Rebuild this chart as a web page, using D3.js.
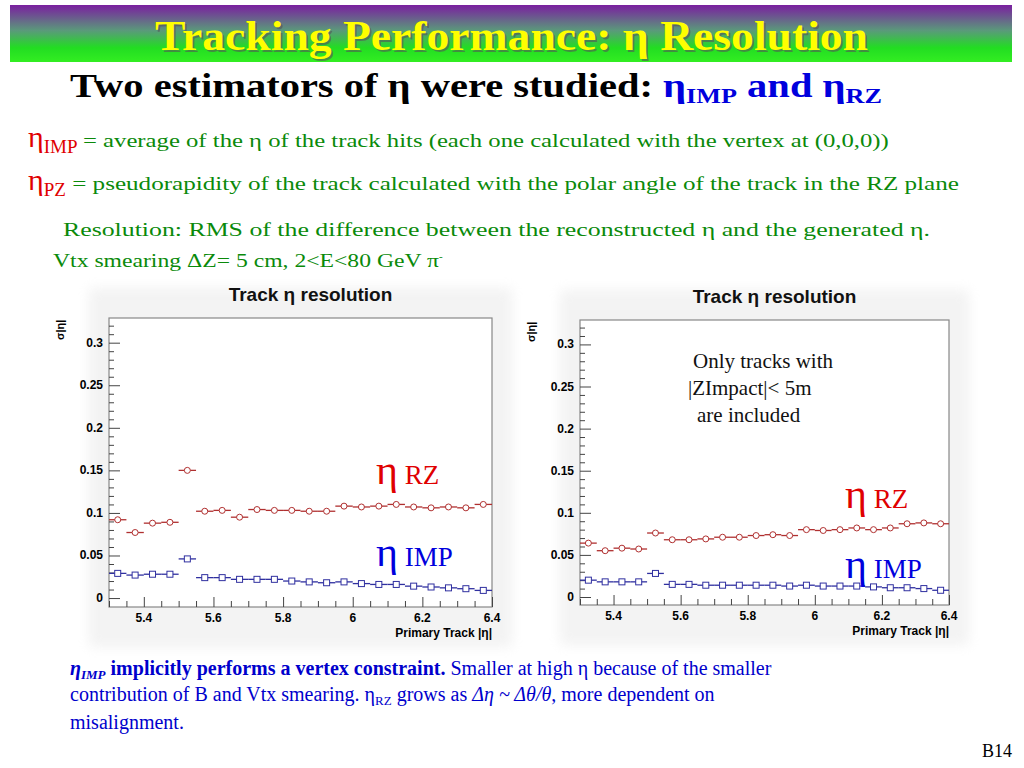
<!DOCTYPE html>
<meta charset="utf-8">
<style>
body { margin: 0; background: #fff; }
svg text { font-family: "Liberation Serif", "DejaVu Serif", serif; }
.roo text { font-family: "Liberation Sans", Arial, sans-serif; font-weight: bold; }
</style>
<svg width="1024" height="768"></svg>
<script src="https://d3js.org/d3.v7.min.js"></script>
<script>

// bin centres, width 0.05 from 5.3 to 6.4
var etaBins = d3.range(22).map(function(i) { return +(5.325 + i * 0.05).toFixed(3); });

var leftRZ  = [0.092,0.077,0.088,0.089,0.150,0.102,0.103,0.095,0.104,0.103,0.103,0.102,0.102,0.108,0.107,0.108,0.110,0.107,0.106,0.107,0.106,0.110];
var leftIMP = [0.029,0.027,0.028,0.028,0.046,0.024,0.024,0.022,0.022,0.022,0.020,0.019,0.018,0.019,0.017,0.016,0.016,0.014,0.013,0.012,0.011,0.009];
var rightRZ  = [0.064,0.055,0.058,0.057,0.076,0.068,0.068,0.069,0.071,0.071,0.073,0.074,0.073,0.080,0.079,0.080,0.082,0.080,0.082,0.087,0.088,0.087];
var rightIMP = [0.020,0.018,0.018,0.018,0.028,0.015,0.015,0.014,0.014,0.014,0.014,0.014,0.013,0.014,0.013,0.013,0.013,0.012,0.011,0.011,0.010,0.008];

var xTicks = [5.4, 5.6, 5.8, 6, 6.2, 6.4];
var yTicks = [0, 0.05, 0.1, 0.15, 0.2, 0.25, 0.3];

var svg = d3.select("svg");

// banner
var defs = svg.append("defs");
var grad = defs.append("linearGradient").attr("id", "ban").attr("x1", 0).attr("y1", 0).attr("x2", 0).attr("y2", 1);
grad.append("stop").attr("offset", "0%").attr("stop-color", "#7a1fa0");
grad.append("stop").attr("offset", "45%").attr("stop-color", "#5a9a7a");
grad.append("stop").attr("offset", "75%").attr("stop-color", "#22dd22");
grad.append("stop").attr("offset", "100%").attr("stop-color", "#33ee22");
var shadow = defs.append("filter").attr("id", "blur").attr("x", "-20%").attr("y", "-20%").attr("width", "140%").attr("height", "140%");
shadow.append("feGaussianBlur").attr("stdDeviation", 6);

svg.append("rect").attr("x", 10).attr("y", 5).attr("width", 1002).attr("height", 57).attr("fill", "url(#ban)");
svg.append("text").attr("x", 157).attr("y", 52).attr("textLength", 713).attr("lengthAdjust", "spacingAndGlyphs")
  .attr("font-size", 42).attr("font-weight", "bold").attr("fill", "#555").attr("opacity", 0.6)
  .text("Tracking Performance: η Resolution");
svg.append("text").attr("x", 155).attr("y", 50).attr("textLength", 713).attr("lengthAdjust", "spacingAndGlyphs")
  .attr("font-size", 42).attr("font-weight", "bold").attr("fill", "#ffff00")
  .text("Tracking Performance: η Resolution");

var sub = svg.append("text").attr("x", 70).attr("y", 97).attr("font-size", 34).attr("font-weight", "bold")
  .attr("textLength", 812).attr("lengthAdjust", "spacingAndGlyphs");
sub.append("tspan").text("Two estimators of η were studied:  ");
sub.append("tspan").attr("fill", "#0000dd").text("η");
sub.append("tspan").attr("fill", "#0000dd").attr("font-size", 22).attr("dy", 6).text("IMP");
sub.append("tspan").attr("fill", "#0000dd").attr("dy", -6).text(" and η");
sub.append("tspan").attr("fill", "#0000dd").attr("font-size", 22).attr("dy", 6).text("RZ");

function defLine(y, symb, txt, len) {
  var t = svg.append("text").attr("x", 28).attr("y", y).attr("font-size", 20).attr("fill", "#0a8a0a");
  t.append("tspan").attr("fill", "#e00000").attr("font-size", 30).text("η");
  t.append("tspan").attr("fill", "#e00000").attr("font-size", 19).attr("dy", 6).text(symb);
  t.append("tspan").attr("dy", -6).attr("font-size", 19).attr("textLength", len)
    .attr("lengthAdjust", "spacingAndGlyphs").text(" = " + txt);
}
defLine(147, "IMP", "average of the η of the track hits (each one calculated with the vertex at (0,0,0))", 812);
defLine(190, "PZ", "pseudorapidity of the track calculated with the polar angle of the track in the RZ plane", 893);

svg.append("text").attr("x", 63).attr("y", 236).attr("font-size", 19).attr("fill", "#0a8a0a")
  .attr("textLength", 867).attr("lengthAdjust", "spacingAndGlyphs")
  .text("Resolution: RMS of the difference between the reconstructed η and the generated η.");
var vt = svg.append("text").attr("x", 53).attr("y", 267).attr("font-size", 19).attr("fill", "#0a8a0a");
vt.append("tspan").attr("textLength", 386).attr("lengthAdjust", "spacingAndGlyphs").text("Vtx smearing ΔZ= 5 cm,  2<E<80 GeV  π");
vt.append("tspan").attr("font-size", 11).attr("dy", -7).text("-");

function panel(x0, x1, yTop, yBot, yMin, title, rz, imp, labelPos, note) {
  var g = svg.append("g").attr("class", "roo");
  var x = d3.scaleLinear().domain([5.3, 6.4]).range([x0, x1]);
  var y = d3.scaleLinear().domain([yMin, 0.329]).range([yBot, yTop]);

  g.append("rect").attr("x", x0 - 20).attr("y", yTop - 30).attr("width", x1 - x0 + 40).attr("height", yBot - yTop + 70)
    .attr("fill", "#ddd").attr("opacity", 0.35).attr("filter", "url(#blur)");
  g.append("rect").attr("x", x0).attr("y", yTop).attr("width", x1 - x0).attr("height", yBot - yTop)
    .attr("fill", "#fff").attr("stroke", "#888").attr("stroke-width", 1.2);

  g.append("text").attr("x", (x0 + x1) / 2 + 10).attr("y", yTop - 17).attr("text-anchor", "middle")
    .attr("font-size", 19).attr("fill", "#111").text(title);

  var xa = g.append("g").attr("transform", "translate(0," + yBot + ")")
    .call(d3.axisTop(x).tickValues(d3.range(5.3, 6.401, 0.05)).tickSize(6).tickFormat(""));
  xa.selectAll("line").attr("stroke", "#444");
  xa.selectAll("line").filter(function(d) { return xTicks.some(function(t) { return Math.abs(t - d) < 1e-6; }); })
    .attr("y2", -10);
  xa.select(".domain").remove();
  xTicks.forEach(function(t) {
    g.append("text").attr("x", x(t)).attr("y", yBot + 15).attr("text-anchor", "middle").attr("font-size", 12).text(t);
  });
  g.append("text").attr("x", x1).attr("y", yBot + 30).attr("text-anchor", "end").attr("font-size", 12).text("Primary Track |η|");

  var ya = g.append("g").attr("transform", "translate(" + x0 + ",0)")
    .call(d3.axisRight(y).tickValues(d3.range(0, 0.33, 0.01)).tickSize(5).tickFormat(""));
  ya.selectAll("line").attr("stroke", "#444");
  ya.selectAll("line").filter(function(d) { return Math.round(d * 100) % 5 === 0; }).attr("x2", 11);
  ya.select(".domain").remove();
  yTicks.forEach(function(t) {
    g.append("text").attr("x", x0 - 6).attr("y", y(t) + 4).attr("text-anchor", "end").attr("font-size", 12).text(t);
  });
  g.append("text").attr("transform", "translate(" + (x0 - 45) + "," + (yTop + 22) + ") rotate(-90)")
    .attr("font-size", 11).attr("font-weight", "normal").text("σ|η|");

  function series(vals, color, shape) {
    var s = g.append("g");
    s.selectAll("line.h").data(vals).enter().append("line")
      .attr("x1", function(d, i) { return x(etaBins[i] - 0.025); })
      .attr("x2", function(d, i) { return x(etaBins[i] + 0.025); })
      .attr("y1", function(d) { return y(d); }).attr("y2", function(d) { return y(d); })
      .attr("stroke", color).attr("stroke-width", 1.3);
    if (shape === "c") {
      s.selectAll("circle").data(vals).enter().append("circle")
        .attr("cx", function(d, i) { return x(etaBins[i]); }).attr("cy", function(d) { return y(d); })
        .attr("r", 3).attr("fill", "#fff").attr("stroke", color);
    } else {
      s.selectAll("rect").data(vals).enter().append("rect")
        .attr("x", function(d, i) { return x(etaBins[i]) - 3; }).attr("y", function(d) { return y(d) - 3; })
        .attr("width", 6).attr("height", 6).attr("fill", "#fff").attr("stroke", color);
    }
  }
  series(rz, "#b03030", "c");
  series(imp, "#3030a0", "s");

  var lr = svg.append("text").attr("x", labelPos[0]).attr("y", labelPos[1]).attr("fill", "#e00000").attr("font-size", 42);
  lr.append("tspan").text("η");
  lr.append("tspan").attr("font-size", 27).text(" RZ");
  var li = svg.append("text").attr("x", labelPos[0]).attr("y", labelPos[2]).attr("fill", "#0000dd").attr("font-size", 42);
  li.append("tspan").text("η");
  li.append("tspan").attr("font-size", 27).text(" IMP");

  if (note) {
    var nt = svg.append("text").attr("font-size", 21).attr("fill", "#111");
    note.forEach(function(n, i) {
      nt.append("tspan").attr("x", n[0]).attr("y", 368 + i * 27).text(n[1]);
    });
  }
}

panel(109, 492, 318, 607, -0.0105, "Track η resolution", leftRZ, leftIMP, [376, 484, 566]);
panel(580, 949, 320, 605, -0.0095, "Track η resolution", rightRZ, rightIMP, [845, 508, 578],
  [[693, "Only tracks with"], [688, "|ZImpact|< 5m"], [697, "are included"]]);

// footnote
var f1 = svg.append("text").attr("x", 70).attr("y", 675).attr("font-size", 20).attr("fill", "#0000cc");
f1.append("tspan").attr("font-weight", "bold").attr("font-style", "italic").text("η");
f1.append("tspan").attr("font-weight", "bold").attr("font-style", "italic").attr("font-size", 13).attr("dy", 4).text("IMP");
f1.append("tspan").attr("font-weight", "bold").attr("dy", -4).text(" implicitly performs a vertex constraint.");
f1.append("tspan").text(" Smaller at high η because of the smaller");
var f2 = svg.append("text").attr("x", 70).attr("y", 701).attr("font-size", 20).attr("fill", "#0000cc");
f2.append("tspan").text("contribution of B and Vtx smearing. η");
f2.append("tspan").attr("font-size", 13).attr("dy", 4).text("RZ");
f2.append("tspan").attr("dy", -4).text(" grows as ");
f2.append("tspan").attr("font-style", "italic").text("Δη ~ Δθ/θ");
f2.append("tspan").text(", more dependent on");
svg.append("text").attr("x", 70).attr("y", 729).attr("font-size", 20).attr("fill", "#0000cc").text("misalignment.");

svg.append("text").attr("x", 1012).attr("y", 757).attr("text-anchor", "end").attr("font-size", 18).text("B14");

</script>
